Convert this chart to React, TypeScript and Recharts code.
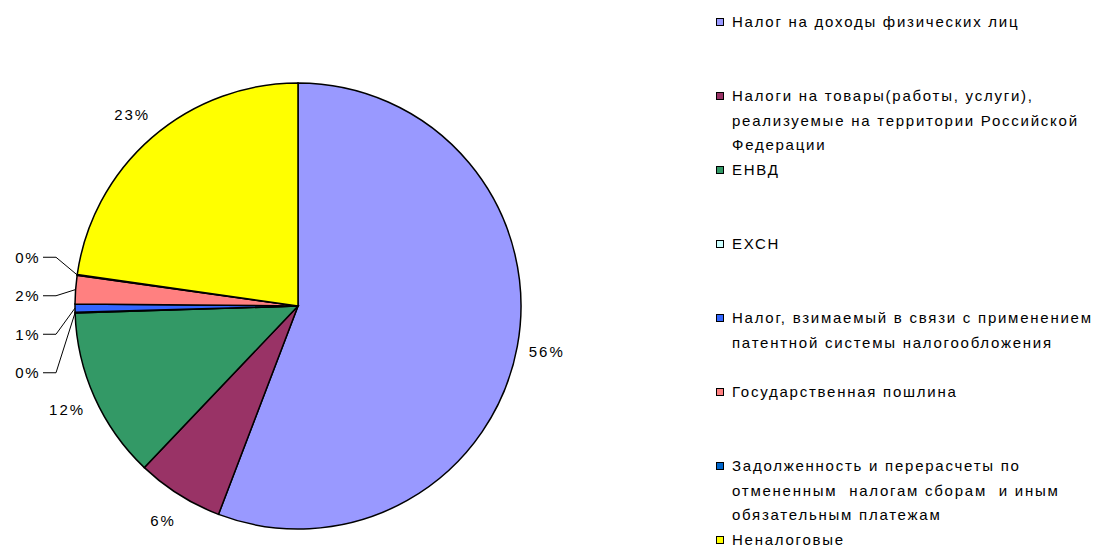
import React from 'react';
import { PieChart, Pie, Cell, Legend } from 'recharts';

const categories = [
  'Налог на доходы физических лиц',
  'Налоги на товары(работы, услуги),\nреализуемые на территории Российской\nФедерации',
  'ЕНВД',
  'ЕХСН',
  'Налог, взимаемый в связи с применением\nпатентной системы налогообложения',
  'Государственная пошлина',
  'Задолженность и перерасчеты по\nотмененным  налогам сборам  и иным\nобязательным платежам',
  'Неналоговые',
];

const values = [55.8, 6.3, 12.4, 0.05, 0.6, 2.05, 0.05, 22.75];

const colors = ['#9999FF', '#993366', '#339966', '#CCFFFF', '#3366FF', '#FF8080', '#0066CC', '#FFFF00'];

const data = categories.map((name, i) => ({ name, value: values[i] }));

const FONT = '"Liberation Sans", Arial, sans-serif';
const RAD = Math.PI / 180;

const renderLabel = (props: any) => {
  const { cx, cy, midAngle, outerRadius, percent, index } = props;
  const text = `${Math.round(percent * 100)}%`;
  if (percent < 0.03) {
    const ly = cy + 9 + (4.5 - index) * 38.5;
    const lx = cx - outerRadius - 35;
    const ex = cx + outerRadius * Math.cos(-midAngle * RAD);
    const ey = cy + outerRadius * Math.sin(-midAngle * RAD);
    return (
      <g key={`l${index}`}>
        <polyline
          points={`${lx + 3},${ly} ${lx + 16},${ly} ${ex},${ey}`}
          fill="none"
          stroke="#000"
          strokeWidth={1}
        />
        <text
          x={lx}
          y={ly}
          textAnchor="end"
          dominantBaseline="central"
          fontFamily={FONT}
          fontSize={15}
          letterSpacing={1.5}
          fill="#000"
        >
          {text}
        </text>
      </g>
    );
  }
  const r = outerRadius + 30;
  const x = cx + r * Math.cos(-midAngle * RAD);
  const y = cy + r * Math.sin(-midAngle * RAD);
  return (
    <text
      key={`l${index}`}
      x={x}
      y={y}
      textAnchor="middle"
      dominantBaseline="central"
      fontFamily={FONT}
      fontSize={15}
      letterSpacing={2}
      fill="#000"
    >
      {text}
    </text>
  );
};

const renderLegend = (props: any) => {
  const payload = [...(props.payload || [])].sort(
    (a: any, b: any) => categories.indexOf(String(a.value)) - categories.indexOf(String(b.value))
  );
  return (
    <div style={{ fontFamily: FONT, fontSize: 15, letterSpacing: 1.75, color: '#000' }}>
      {payload.map((entry: any, i: number) => (
        <div key={i} style={{ height: 74, position: 'relative' }}>
          <div
            style={{
              position: 'absolute',
              left: 0,
              top: 8,
              width: 6,
              height: 6,
              border: '1.5px solid #000',
              background: entry.color,
            }}
          />
          <div style={{ position: 'absolute', left: 16, top: 0, lineHeight: '24.5px', whiteSpace: 'pre' }}>
            {String(entry.value)}
          </div>
        </div>
      ))}
    </div>
  );
};

export default function App() {
  return (
    <div style={{ position: 'absolute', left: 0, top: 0, width: 1103, height: 546, background: '#fff' }}>
      <PieChart width={1103} height={546} margin={{ top: 0, right: 0, bottom: 0, left: 0 }}>
        <Pie
          data={data}
          dataKey="value"
          nameKey="name"
          cx={298}
          cy={306}
          outerRadius={223}
          startAngle={90}
          endAngle={-270}
          stroke="#000"
          strokeWidth={1.5}
          label={renderLabel}
          labelLine={false}
          isAnimationActive={false}
        >
          {data.map((d, i) => (
            <Cell key={i} fill={colors[i]} />
          ))}
        </Pie>
        <Legend
          layout="vertical"
          align="right"
          verticalAlign="top"
          itemSorter={null as any}
          content={renderLegend}
          wrapperStyle={{ position: 'absolute', left: 716, top: 10, width: 387 }}
        />
      </PieChart>
    </div>
  );
}
